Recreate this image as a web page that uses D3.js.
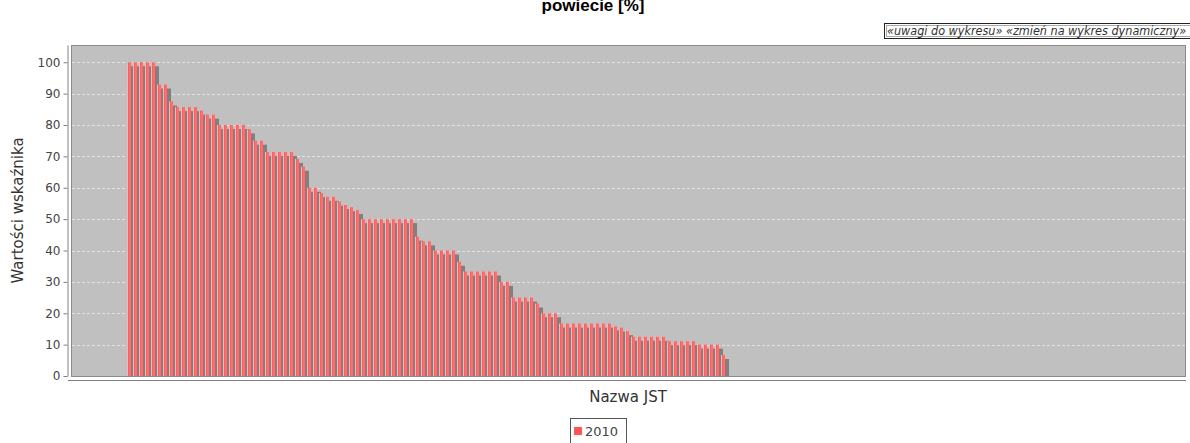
<!DOCTYPE html>
<html>
<head>
<meta charset="utf-8">
<script src="https://cdn.jsdelivr.net/npm/d3@7"></script>
<style>
body { margin: 0; background: #fff; }
svg { display: block; font-family: "DejaVu Sans", sans-serif; }
</style>
</head>
<body>
<div id="viz"></div>
<script>
// Bar chart of the indicator per JST, sorted from high to low (one series, 2010)

var width = 1190;
var height = 443;
var plotLeft = 71, plotRight = 1185, plotTop = 45, plotBottom = 376;
var barsLeft = 127, barsRight = 725;
var shadowOffset = 4;

var titleText = "powiecie [%]";
var notesText = "\u00abuwagi do wykresu\u00bb \u00abzmie\u0144 na wykres dynamiczny\u00bb";
var yLabel = "Warto\u015bci wska\u017anika";
var xLabel = "Nazwa JST";
var seriesNames = ["2010"];
var yTicks = [0, 10, 20, 30, 40, 50, 60, 70, 80, 90, 100];

// one value per JST
var values2010 = [
    100, 100, 100, 100, 100, 92.9, 92.9, 87.5, 85.7, 85.7,
    85.7, 85.7, 84.6, 83.3, 83.3, 80, 80, 80, 80, 80,
    78.6, 75, 75, 71.4, 71.4, 71.4, 71.4, 71.4, 69.2, 66.7,
    60, 60, 58.3, 57.1, 57.1, 55.6, 54.5, 53.8, 52.9, 50,
    50, 50, 50, 50, 50, 50, 50, 50, 44.4, 42.9,
    42.9, 40, 40, 40, 40, 36.4, 33.3, 33.3, 33.3, 33.3,
    33.3, 33.3, 30, 30, 25, 25, 25, 25, 23.1, 20,
    20, 20, 16.7, 16.7, 16.7, 16.7, 16.7, 16.7, 16.7, 16.7,
    16.7, 15.8, 15.4, 14.3, 12.5, 12.5, 12.5, 12.5, 12.5, 12.5,
    11.1, 11.1, 11.1, 11.1, 11.1, 10, 10, 10, 10, 6.7
];

var barColor = "#ff5555";
var barBright = "#ff7979";
var shadowColor = "#808080";

function main() {
    var svg = d3.select("#viz").append("svg")
        .attr("width", width)
        .attr("height", height);

    // gradient like the bar painter: white glint near the left edge, lighter middle
    var grad = svg.append("defs").append("linearGradient")
        .attr("id", "barGrad")
        .attr("x1", "0").attr("x2", "1").attr("y1", "0").attr("y2", "0");
    [[0, barColor], [0.1, "#ffc8c8"], [0.22, barColor], [0.8, barBright], [1, barColor]]
        .forEach(function(s) {
            grad.append("stop").attr("offset", s[0]).attr("stop-color", s[1]);
        });

    // title (upper lines are cut off in the original)
    svg.append("text")
        .attr("x", 593).attr("y", 11)
        .attr("text-anchor", "middle")
        .attr("font-family", "'Liberation Sans', Arial, sans-serif")
        .attr("font-weight", "bold")
        .attr("font-size", 17)
        .attr("fill", "#000")
        .text(titleText);

    // notes box in the top right corner
    var notes = svg.append("g");
    notes.append("rect")
        .attr("x", 884.5).attr("y", 23.5)
        .attr("width", 320).attr("height", 15)
        .attr("fill", "#fff").attr("stroke", "#222");
    notes.append("rect")
        .attr("x", 886.5).attr("y", 25.5)
        .attr("width", 320).attr("height", 11)
        .attr("fill", "none").attr("stroke", "#aaa");
    notes.append("text")
        .attr("x", 887).attr("y", 35)
        .attr("font-family", "'DejaVu Sans Condensed', 'DejaVu Sans', sans-serif")
        .attr("font-style", "italic")
        .attr("font-size", 12.5)
        .attr("fill", "#333")
        .text(notesText);

    var x = d3.scaleBand()
        .domain(d3.range(values2010.length))
        .range([barsLeft, barsRight])
        .paddingInner(1 / 3)
        .paddingOuter(0);

    var y = d3.scaleLinear()
        .domain([0, 105.5])
        .range([plotBottom, plotTop]);

    // plot background
    svg.append("rect")
        .attr("x", plotLeft + 0.5).attr("y", plotTop + 0.5)
        .attr("width", plotRight - plotLeft).attr("height", plotBottom - plotTop)
        .attr("fill", "#c0c0c0")
        .attr("stroke", "#8a8a8a");

    // grid lines
    svg.append("g").selectAll("line")
        .data(yTicks.filter(function(d) { return d > 0; }))
        .enter().append("line")
        .attr("x1", plotLeft + 1).attr("x2", plotRight)
        .attr("y1", function(d) { return Math.round(y(d)) + 0.5; })
        .attr("y2", function(d) { return Math.round(y(d)) + 0.5; })
        .attr("stroke", "#e2e2e2")
        .attr("stroke-width", 1)
        .attr("stroke-dasharray", "3,2");

    // bars: shadow first, then the bar, item by item
    var items = svg.append("g").selectAll("g")
        .data(values2010)
        .enter().append("g");

    items.append("rect")
        .attr("x", function(d, i) { return x(i) + shadowOffset; })
        .attr("y", function(d) { return y(d) + shadowOffset; })
        .attr("width", x.bandwidth())
        .attr("height", function(d) { return Math.max(0, y(0) - y(d) - shadowOffset); })
        .attr("fill", shadowColor);

    items.append("rect")
        .attr("x", function(d, i) { return x(i); })
        .attr("y", function(d) { return y(d); })
        .attr("width", x.bandwidth())
        .attr("height", function(d) { return y(0) - y(d); })
        .attr("fill", "url(#barGrad)");

    // value axis
    var yAxis = svg.append("g")
        .attr("transform", "translate(" + (plotLeft - 3.5) + ",0)")
        .call(d3.axisLeft(y).tickValues(yTicks).tickSize(4).tickSizeOuter(0).tickPadding(3));
    yAxis.select(".domain").attr("stroke", "#808080");
    yAxis.selectAll(".tick line").attr("stroke", "#808080");
    yAxis.selectAll(".tick text")
        .attr("fill", "#444")
        .attr("font-size", 12)
        .attr("font-family", "'DejaVu Sans', sans-serif");

    // category axis line
    svg.append("line")
        .attr("x1", plotLeft - 3).attr("x2", plotRight + 1)
        .attr("y1", plotBottom + 4.5).attr("y2", plotBottom + 4.5)
        .attr("stroke", "#808080");

    // axis labels
    svg.append("text")
        .attr("transform", "translate(23," + ((plotTop + plotBottom) / 2) + ") rotate(-90)")
        .attr("text-anchor", "middle")
        .attr("font-size", 15)
        .attr("fill", "#333")
        .text(yLabel);

    svg.append("text")
        .attr("x", (plotLeft + plotRight) / 2).attr("y", 402)
        .attr("text-anchor", "middle")
        .attr("font-size", 15)
        .attr("fill", "#333")
        .text(xLabel);

    // legend
    var legend = svg.append("g");
    legend.append("rect")
        .attr("x", 570.5).attr("y", 418.5)
        .attr("width", 56).attr("height", 30)
        .attr("fill", "#fff").attr("stroke", "#555");
    legend.selectAll(".key")
        .data(seriesNames)
        .enter().append("rect")
        .attr("x", 574).attr("y", 427)
        .attr("width", 8).attr("height", 8)
        .attr("fill", barColor);
    legend.selectAll(".name")
        .data(seriesNames)
        .enter().append("text")
        .attr("x", 585).attr("y", 436)
        .attr("font-size", 13)
        .attr("fill", "#444")
        .text(function(d) { return d; });
}

main();
</script>
</body>
</html>
